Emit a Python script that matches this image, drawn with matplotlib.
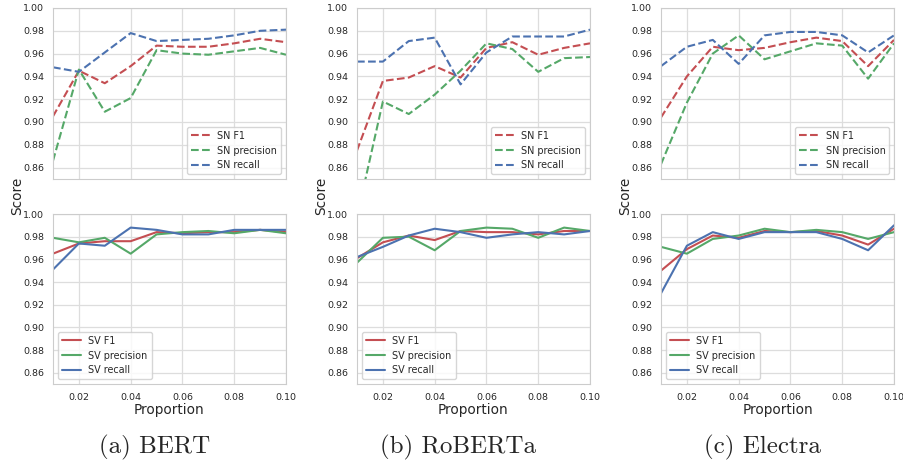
import matplotlib
matplotlib.use("Agg")
import matplotlib.pyplot as plt
import seaborn as sns
import numpy as np

sns.set_style("whitegrid")
plt.rcParams['font.family'] = ['DejaVu Sans']

proportion = [0.01, 0.02, 0.03, 0.04, 0.05, 0.06, 0.07, 0.08, 0.09, 0.10]
models = ['BERT', 'RoBERTa', 'Electra']
captions = ['(a) BERT', '(b) RoBERTa', '(c) Electra']

# SN (dashed, top row)
bert_sn_f1 = [0.905, 0.945, 0.934, 0.949, 0.967, 0.966, 0.966, 0.969, 0.973, 0.970]
bert_sn_prec = [0.866, 0.946, 0.909, 0.921, 0.963, 0.960, 0.959, 0.962, 0.965, 0.959]
bert_sn_rec = [0.948, 0.944, 0.961, 0.978, 0.971, 0.972, 0.973, 0.976, 0.980, 0.981]

roberta_sn_f1 = [0.875, 0.936, 0.939, 0.949, 0.939, 0.965, 0.970, 0.959, 0.965, 0.969]
roberta_sn_prec = [0.817, 0.918, 0.907, 0.924, 0.945, 0.969, 0.964, 0.944, 0.956, 0.957]
roberta_sn_rec = [0.953, 0.953, 0.971, 0.974, 0.933, 0.961, 0.975, 0.975, 0.975, 0.981]

electra_sn_f1 = [0.904, 0.940, 0.966, 0.963, 0.965, 0.970, 0.974, 0.971, 0.949, 0.972]
electra_sn_prec = [0.863, 0.917, 0.960, 0.976, 0.955, 0.962, 0.969, 0.967, 0.938, 0.969]
electra_sn_rec = [0.949, 0.966, 0.972, 0.951, 0.976, 0.979, 0.979, 0.976, 0.961, 0.976]

# SV (solid, bottom row)
bert_sv_f1 = [0.965, 0.974, 0.976, 0.976, 0.984, 0.983, 0.984, 0.984, 0.986, 0.984]
bert_sv_prec = [0.979, 0.975, 0.979, 0.965, 0.982, 0.984, 0.985, 0.983, 0.986, 0.983]
bert_sv_rec = [0.951, 0.974, 0.972, 0.988, 0.986, 0.982, 0.982, 0.986, 0.986, 0.986]

roberta_sv_f1 = [0.961, 0.975, 0.981, 0.977, 0.985, 0.984, 0.984, 0.982, 0.985, 0.985]
roberta_sv_prec = [0.957, 0.979, 0.980, 0.968, 0.985, 0.988, 0.987, 0.979, 0.988, 0.985]
roberta_sv_rec = [0.962, 0.971, 0.981, 0.987, 0.984, 0.979, 0.982, 0.984, 0.982, 0.985]

electra_sv_f1 = [0.950, 0.969, 0.981, 0.979, 0.985, 0.984, 0.985, 0.981, 0.973, 0.987]
electra_sv_prec = [0.971, 0.965, 0.978, 0.981, 0.987, 0.984, 0.986, 0.984, 0.978, 0.984]
electra_sv_rec = [0.930, 0.972, 0.984, 0.978, 0.984, 0.984, 0.984, 0.978, 0.968, 0.990]

sn_data = [[bert_sn_f1, bert_sn_prec, bert_sn_rec],
           [roberta_sn_f1, roberta_sn_prec, roberta_sn_rec],
           [electra_sn_f1, electra_sn_prec, electra_sn_rec]]
sv_data = [[bert_sv_f1, bert_sv_prec, bert_sv_rec],
           [roberta_sv_f1, roberta_sv_prec, roberta_sv_rec],
           [electra_sv_f1, electra_sv_prec, electra_sv_rec]]

colors = ['#c44e52', '#55a868', '#4c72b0']
names = ['F1', 'precision', 'recall']

W, H = 904, 467
fig = plt.figure(figsize=(9.04, 4.67), dpi=100)

lefts = [53, 357, 661]
ax_w = 233
yticks = np.arange(0.86, 1.001, 0.02)
xticks = [0.02, 0.04, 0.06, 0.08, 0.10]

def style_ax(ax):
    ax.set_xlim(0.01, 0.10)
    ax.set_ylim(0.85, 1.00)
    ax.set_yticks(yticks)
    ax.set_xticks(xticks)
    ax.tick_params(labelsize=6.8, colors='#262626', pad=3)
    for s in ax.spines.values():
        s.set_color('#cccccc')
    ax.grid(color='#dddddd', linewidth=0.9)

for i in range(3):
    L = lefts[i] / W
    top = fig.add_axes([L, 1 - 179 / H, ax_w / W, 171 / H])
    bot = fig.add_axes([L, 1 - 384 / H, ax_w / W, 170 / H])
    for j in range(3):
        top.plot(proportion, sn_data[i][j], color=colors[j], linestyle='--',
                 linewidth=1.5, label='SN ' + names[j])
        bot.plot(proportion, sv_data[i][j], color=colors[j], linestyle='-',
                 linewidth=1.5, label='SV ' + names[j])
    style_ax(top)
    style_ax(bot)
    top.set_xticklabels([])
    bot.set_xticklabels(['0.02', '0.04', '0.06', '0.08', '0.10'])
    bot.set_xlabel('Proportion', fontsize=9.8, color='#262626', labelpad=1)
    top.legend(loc='lower right', fontsize=6.9, frameon=True, edgecolor='#cccccc')
    bot.legend(loc='lower left', fontsize=6.9, frameon=True, edgecolor='#cccccc')
    fig.text((lefts[i] - 36) / W, 1 - 196 / H, 'Score', rotation=90,
             fontsize=9.8, color='#262626', ha='center', va='center')
    fig.text((lefts[i] + ax_w / 2 - 15) / W, 1 - 447 / H, captions[i],
             fontsize=18, family='cmr10', ha='center', va='center')

fig.savefig('out.png', dpi=100)
